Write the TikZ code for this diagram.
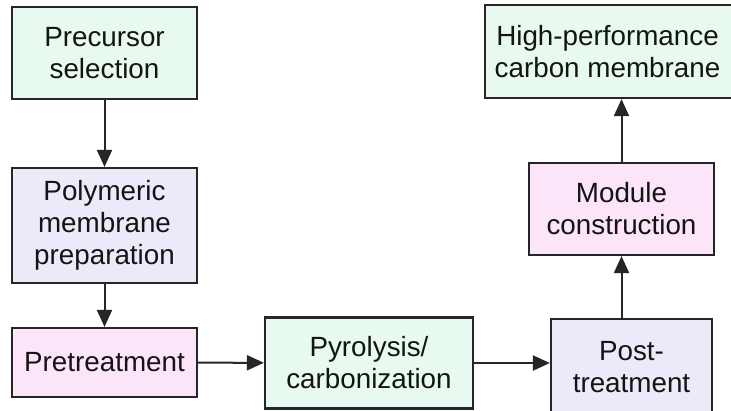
\documentclass[tikz,border=0pt]{standalone}
\usepackage{fontspec}
\setmainfont{Liberation Sans}
\usetikzlibrary{arrows.meta}
\definecolor{boxgreen}{HTML}{E8FAF0}
\definecolor{boxlav}{HTML}{ECEAF8}
\definecolor{boxpink}{HTML}{FDE5F9}
\definecolor{edge}{HTML}{262626}
\tikzset{
  box/.style={draw=edge, line width=2.2pt, inner sep=0pt, align=center,
    font=\fontsize{27.8}{32}\selectfont, text=black!92},
  conn/.style={draw=edge, line width=2pt, -{Triangle[length=17pt,width=15pt]}}
}
\begin{document}
\begin{tikzpicture}[x=1pt,y=-1pt]
\useasboundingbox (0,0) rectangle (731,410);
\fill[white] (0,0) rectangle (731,410);
\node[box, fill=boxgreen, minimum width=185pt, minimum height=92pt] (ps) at (104.5,53) {Precursor\\selection};
\node[box, fill=boxlav, minimum width=185pt, minimum height=115pt] (pm) at (104.5,225.5) {Polymeric\\membrane\\preparation};
\node[box, fill=boxpink, minimum width=185pt, minimum height=69pt] (pt) at (104.5,362.5) {Pretreatment};
\node[box, fill=boxgreen, minimum width=208pt, minimum height=91pt] (py) at (369,363) {Pyrolysis/\\carbonization};
\node[box, fill=boxlav, minimum width=161pt, minimum height=96pt] (po) at (631.5,367) {Post-\\treatment};
\node[box, fill=boxpink, minimum width=185pt, minimum height=92pt] (mc) at (621.5,209) {Module\\construction};
\node[box, fill=boxgreen, minimum width=250pt, minimum height=93pt] (hp) at (610,51.5) {};
\node[font=\fontsize{27.8}{32}\selectfont, text=black!92, align=center] (hpt) at (607.5,51.5) {High-performance\\carbon membrane};
\draw[conn] (ps) -- (pm);
\draw[conn] (pm) -- (pt);
\draw[conn] (pt) -- (py);
\draw[conn] (py.east) -- (po.west |- py.east);
\draw[conn] (po.north -| mc.south) -- (mc.south);
\draw[conn] (mc) -- (hp.south -| mc.north);
\end{tikzpicture}
\end{document}
